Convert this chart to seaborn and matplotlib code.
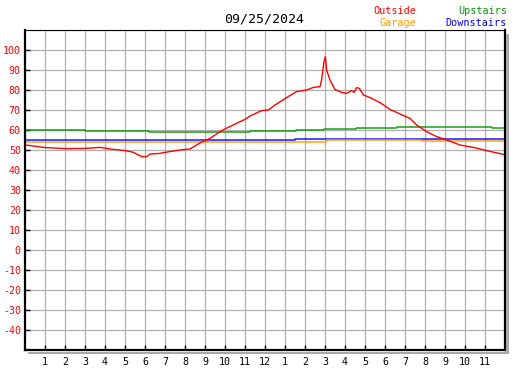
import matplotlib
matplotlib.use("Agg")
import matplotlib.pyplot as plt
from matplotlib.patches import Rectangle
import seaborn as sns
import pandas as pd

title = "09/25/2024"
hour_labels = ["1", "2", "3", "4", "5", "6", "7", "8", "9", "10", "11", "12",
               "1", "2", "3", "4", "5", "6", "7", "8", "9", "10", "11"]
y_ticks = [100, 90, 80, 70, 60, 50, 40, 30, 20, 10, 0, -10, -20, -30, -40]

outside_t = [0, 0.42, 0.92, 2, 3, 3.75, 4.25, 5, 5.4, 5.83, 6.08, 6.25, 6.75, 7,
             7.75, 8.25, 8.75, 9.25, 9.83, 10.4, 11, 11.25, 11.83, 12.17, 12.5,
             13.08, 13.58, 14.08, 14.42, 14.75, 14.83, 14.95, 15.02, 15.08, 15.25,
             15.5, 15.83, 16.08, 16.33, 16.45, 16.58, 16.72, 16.92, 17.25, 17.75,
             18.25, 18.75, 19.25, 19.58, 20.08, 20.58, 21.08, 21.75, 22.42, 23.08, 23.92]
outside_v = [52.5, 52, 51.3, 50.7, 50.8, 51.3, 50.5, 49.7, 48.9, 46.7, 46.7, 48, 48.3, 48.8,
             50, 50.5, 53.5, 55.8, 59.7, 62.5, 65.3, 67, 69.7, 70, 72.5,
             76.2, 79.2, 80, 81.3, 81.7, 85, 94.2, 96.7, 90, 85,
             80.3, 78.8, 78.3, 79.7, 78.8, 81.2, 80.8, 77.5, 76.2, 73.7,
             70.3, 68, 65.8, 62.5, 59.2, 56.7, 55, 52.5, 51.3, 49.7, 47.8]

garage_t = [0, 15.05, 15.06, 19.8, 19.81, 23.92]
garage_v = [54, 54, 55, 55, 54.5, 54.5]

upstairs_t = [0, 3, 3.01, 6.2, 6.21, 11.25, 11.26, 13.55, 13.56, 14.95, 14.96,
              16.55, 16.56, 18.58, 18.59, 23.33, 23.34, 23.92]
upstairs_v = [60, 60, 59.5, 59.5, 59, 59, 59.5, 59.5, 60, 60, 60.5,
              60.5, 61, 61, 61.5, 61.5, 61, 61]

downstairs_t = [0, 13.5, 13.51, 23.92]
downstairs_v = [55, 55, 55.5, 55.5]

colors = {"Outside": "#ff0000", "Garage": "#ff9900",
          "Upstairs": "#009900", "Downstairs": "#0000ff"}

frames = []
for name, t, v in [("Upstairs", upstairs_t, upstairs_v), ("Downstairs", downstairs_t, downstairs_v),
                   ("Garage", garage_t, garage_v), ("Outside", outside_t, outside_v)]:
    frames.append(pd.DataFrame({"hour": t, "temp": v, "sensor": name}))
df = pd.concat(frames, ignore_index=True)

sns.set_style("white")
plt.rcParams["font.family"] = ["DejaVu Sans Mono"]

W, H = 527, 370
fig = plt.figure(figsize=(W / 100, H / 100), dpi=100)
ax = fig.add_axes([25 / W, 1 - 350 / H, 480 / W, 320 / H])

for name in ["Upstairs", "Downstairs", "Garage", "Outside"]:
    sns.lineplot(data=df[df.sensor == name], x="hour", y="temp", color=colors[name],
                 linewidth=1.0, ax=ax, legend=False, estimator=None, sort=False)

ax.set_xlim(0, 24)
ax.set_ylim(-50, 110)
ax.set_xlabel("")
ax.set_ylabel("")

# grid
for h in range(1, 24):
    ax.axvline(h, color="#b0b0b0", lw=0.9, zorder=0)
for yv in range(-40, 111, 10):
    ax.axhline(yv, color="#b0b0b0", lw=0.9, zorder=0)

ax.set_xticks(list(range(1, 24)))
ax.set_xticklabels(hour_labels, fontsize=7.2, color="black")
ax.set_yticks(y_ticks)
ax.set_yticklabels([str(v) for v in y_ticks], fontsize=7.2, color="#ff0000")
ax.tick_params(axis="both", direction="in", length=3.6, width=1.0, color="black",
               left=True, bottom=True, pad=3)
ax.tick_params(axis="x", pad=5)

for side, lw in [("left", 1.6), ("bottom", 1.6), ("right", 1.6), ("top", 0.8)]:
    ax.spines[side].set_visible(True)
    ax.spines[side].set_color("black")
    ax.spines[side].set_linewidth(lw)

# shadow
fig.add_artist(Rectangle((506 / W, 1 - 354 / H), 2.5 / W, (354 - 34) / H,
                         transform=fig.transFigure, color="#a8a8a8", lw=0))
fig.add_artist(Rectangle((28 / W, 1 - 354 / H), (508.5 - 28) / W, 2.5 / H,
                         transform=fig.transFigure, color="#a8a8a8", lw=0))

fig.text(264 / W, 1 - 19 / H, title, ha="center", va="center", fontsize=9.5, color="black")
fig.text(416 / W, 1 - 11.5 / H, "Outside", ha="right", va="center", fontsize=7.3, color=colors["Outside"])
fig.text(416 / W, 1 - 23.5 / H, "Garage", ha="right", va="center", fontsize=7.3, color=colors["Garage"])
fig.text(507 / W, 1 - 11.5 / H, "Upstairs", ha="right", va="center", fontsize=7.3, color=colors["Upstairs"])
fig.text(507 / W, 1 - 23.5 / H, "Downstairs", ha="right", va="center", fontsize=7.3, color=colors["Downstairs"])

fig.savefig("out.png", dpi=100, facecolor="white")
